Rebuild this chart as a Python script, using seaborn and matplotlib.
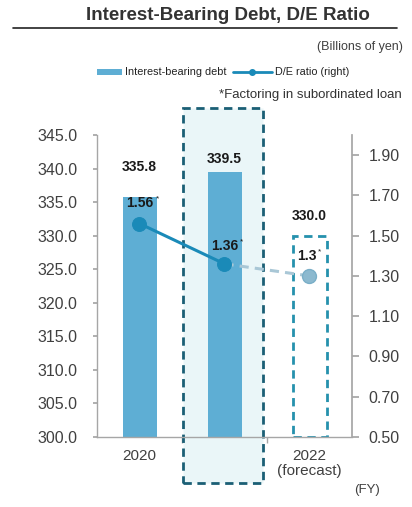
import matplotlib
matplotlib.use("Agg")
import matplotlib.pyplot as plt
import matplotlib.transforms as mtransforms
from matplotlib.patches import Rectangle
import seaborn as sns
import pandas as pd

years = ["2020", "2021", "2022\n(forecast)"]
debt = [335.8, 339.5, 330.0]
de_ratio = [1.56, 1.36, 1.30]
debt_labels = ["335.8", "339.5", "330.0"]
de_labels = ["1.56", "1.36", "1.3"]
left_ticks = [300.0, 305.0, 310.0, 315.0, 320.0, 325.0, 330.0, 335.0, 340.0, 345.0]
right_ticks = [0.50, 0.70, 0.90, 1.10, 1.30, 1.50, 1.70, 1.90]

sns.set_theme(style="white")
plt.rcParams['font.family'] = ['Liberation Sans', 'DejaVu Sans']

BAR = "#5EAED4"
LINE = "#1A8AB8"
AXC = "#A6A6A6"
TXT = "#404040"

fig = plt.figure(figsize=(4.12, 5.07), dpi=100)
ax = fig.add_axes([97/412, 70/507, 255/412, 302/507])

df = pd.DataFrame({"year": years, "debt": debt})
sns.barplot(data=df, x="year", y="debt", color=BAR, width=0.4, saturation=1,
            ax=ax, zorder=2, linewidth=0)
# forecast bar as dashed outline
p = ax.patches[2]
p.set_facecolor("white")
p.set_edgecolor("#2591AD")
p.set_linewidth(2.0)
p.set_linestyle((0, (3, 2)))
# bars from the bottom of the axis
for patch, v in zip(ax.patches, debt):
    patch.set_y(300)
    patch.set_height(v - 300)

ax.set_ylim(300, 345)
ax.set_xlim(-0.5, 2.5)
ax.set_yticks(left_ticks)
ax.set_yticklabels([f"{t:.1f}" for t in left_ticks], fontsize=11.5, color=TXT)
ax.set_xlabel("")
ax.set_ylabel("")
ax.tick_params(axis="x", length=0, labelsize=11, labelcolor=TXT, pad=9)
for lbl in ax.get_xticklabels():
    lbl.set_linespacing(1.05)
ax.tick_params(axis="y", length=3, color=AXC, pad=11, left=True)
ax.set_xticks([0.5, 1.5], minor=True)
ax.tick_params(axis="x", which="minor", length=4, color=AXC, bottom=True)
for s in ["top", "right"]:
    ax.spines[s].set_visible(False)
for s in ["left", "bottom"]:
    ax.spines[s].set_color(AXC)
    ax.spines[s].set_linewidth(1.0)

# highlight box for 2021
trans = mtransforms.blended_transform_factory(ax.transData, ax.transAxes)
hl = Rectangle((0.515, -0.152), 0.94, 1.241, transform=trans, clip_on=False,
               facecolor="#EAF6F8", edgecolor="#1B5F75", linewidth=2.0,
               linestyle=(0, (3, 2)), zorder=1)
ax.add_patch(hl)

for i, (v, lab) in enumerate(zip(debt, debt_labels)):
    offs = [4.4, 1.9, 3.0][i]
    ax.text(i, v + offs, lab, ha="center", va="center", fontsize=10,
            fontweight="bold", color="#1a1a1a", zorder=5)

ax2 = ax.twinx()
ax2.set_ylim(0.5, 2.0)
ax2.set_yticks(right_ticks)
ax2.set_yticklabels([f"{t:.2f}" for t in right_ticks], fontsize=11.5, color=TXT)
ax2.tick_params(axis="y", length=5, color=AXC, pad=7, right=True)
for s in ["top", "left", "bottom"]:
    ax2.spines[s].set_visible(False)
ax2.spines["right"].set_color(AXC)

line_df = pd.DataFrame({"x": [0, 1, 2], "y": de_ratio})
sns.lineplot(data=line_df.iloc[:2], x="x", y="y", color=LINE, linewidth=2.2,
             marker="o", markersize=10, markeredgecolor=LINE, ax=ax2, zorder=4)
ax2.plot(line_df["x"].iloc[1:], line_df["y"].iloc[1:], color="#A9C7D6",
         linewidth=2.2, linestyle=(0, (3, 2)), zorder=3)
ax2.plot(line_df["x"].iloc[2:], line_df["y"].iloc[2:], marker="o", markersize=10,
         color="#8CB9CF", markeredgecolor="#7AAFC8", linestyle="none", zorder=4)
ax2.set_xlabel("")
ax2.set_ylabel("")
ax2.set_xlim(-0.5, 2.5)

de_offs = [0.10, 0.09, 0.10]
de_dx = [0, 0, -0.03]
star_dx = [13, 12, 9]
for i, (v, lab) in enumerate(zip(de_ratio, de_labels)):
    ax2.text(i + de_dx[i], v + de_offs[i], lab, ha="center", va="center", fontsize=10,
             fontweight="bold", color="#1a1a1a", zorder=6)
    ax2.annotate("*", xy=(i + de_dx[i], v + de_offs[i]), xytext=(star_dx[i], 3),
                 textcoords="offset points", fontsize=6, color="#1a1a1a",
                 ha="center", va="center", zorder=7)

# title and header texts
fig.text(228/412, 1 - 15/507, "Interest-Bearing Debt, D/E Ratio", ha="center",
         va="center", fontsize=13.5, fontweight="bold", color="#333333")
fig.add_artist(plt.Line2D([13/412, 397/412], [1 - 28/507, 1 - 28/507],
                          color="#222222", linewidth=1.2))
fig.text(403/412, 1 - 47/507, "(Billions of yen)", ha="right", va="center",
         fontsize=9, color=TXT)
# legend
ly = 1 - 72/507
fig.add_artist(Rectangle((97/412, ly - 3/507), 25/412, 6/507, facecolor=BAR,
                         edgecolor="none", transform=fig.transFigure))
fig.text(125/412, ly, "Interest-bearing debt", ha="left", va="center",
         fontsize=7.8, color="#222222")
fig.add_artist(plt.Line2D([233/412, 272/412], [ly, ly], color=LINE, linewidth=2,
                          transform=fig.transFigure))
fig.add_artist(plt.Line2D([252/412], [ly], color=LINE, marker="o", markersize=4,
                          transform=fig.transFigure))
fig.text(275/412, ly, "D/E ratio (right)", ha="left", va="center",
         fontsize=7.8, color="#222222")
fig.text(402/412, 1 - 95/507, "*Factoring in subordinated loan", ha="right",
         va="center", fontsize=9.5, color="#333333")
fig.text(367/412, 1 - 490/507, "(FY)", ha="center", va="center", fontsize=9.5,
         color=TXT)

fig.savefig("out.png", dpi=100)
